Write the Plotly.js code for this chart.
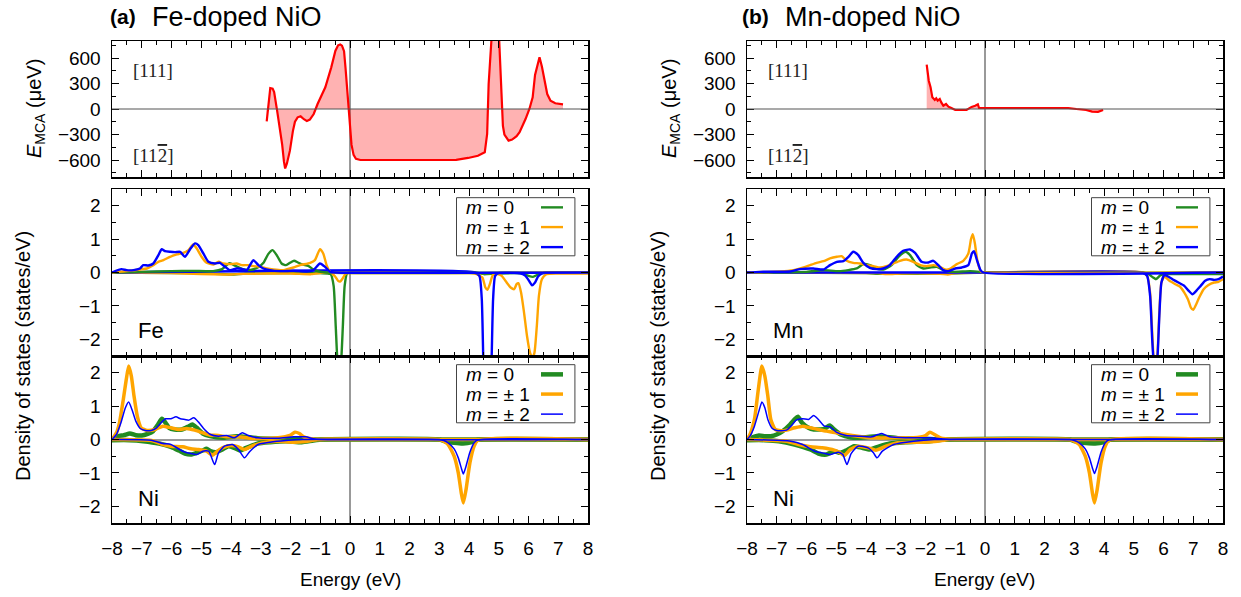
<!DOCTYPE html>
<html>
<head>
<meta charset="utf-8">
<script src="https://cdn.plot.ly/plotly-3.0.1.min.js"></script>
<style>
  html, body { margin: 0; padding: 0; background: #fff; }
  #chart { width: 1241px; height: 597px; }
</style>
</head>
<body>
<div id="chart"></div>
<script>
// ---------- Axis ranges ----------
const energyRange = [-8, 8];
const dosRange = [-2.5, 2.5];
const mcaRange = [-800, 800];

// ---------- MCA energy vs band filling (E, µeV) ----------
const mcaFe = [[-2.80,-145],[-2.72,150],[-2.68,247],[-2.60,240],[-2.55,200],[-2.45,-20],[-2.35,-250],[-2.28,-420],[-2.22,-620],[-2.18,-700],[-2.12,-640],[-2.02,-490],[-1.92,-260],[-1.85,-150],[-1.76,-98],[-1.66,-86],[-1.55,-120],[-1.45,-140],[-1.35,-125],[-1.22,-59],[-1.09,59],[-0.95,160],[-0.83,255],[-0.63,490],[-0.49,686],[-0.40,750],[-0.33,760],[-0.27,745],[-0.20,680],[-0.15,480],[-0.10,250],[-0.05,20],[0.00,-200],[0.05,-420],[0.12,-540],[0.20,-585],[0.35,-600],[1.0,-600],[2.0,-600],[3.0,-600],[3.57,-598],[3.97,-576],[4.30,-550],[4.53,-510],[4.61,-294],[4.66,294],[4.71,850],[4.76,1300],[4.86,1400],[4.96,1250],[5.01,820],[5.08,200],[5.14,-200],[5.19,-300],[5.33,-372],[5.45,-360],[5.60,-320],[5.70,-274],[5.80,-200],[5.90,-118],[6.03,0],[6.14,137],[6.22,400],[6.30,530],[6.37,608],[6.45,500],[6.52,372],[6.63,176],[6.74,98],[6.90,67],[7.16,55]];
const mcaMn = [[-1.96,521],[-1.92,420],[-1.89,333],[-1.83,255],[-1.77,137],[-1.69,106],[-1.64,125],[-1.59,98],[-1.52,118],[-1.47,78],[-1.40,39],[-1.31,59],[-1.23,27],[-1.13,12],[-1.00,-12],[-0.80,-12],[-0.62,-12],[-0.52,10],[-0.45,25],[-0.33,39],[-0.24,55],[-0.20,12],[0.0,12],[1.0,12],[2.0,12],[2.8,12],[3.07,0],[3.40,-12],[3.60,-31],[3.80,-33],[3.97,-12]];

// ---------- Fe d-orbital DOS (states/eV), spin up ----------
const feUpM0 = [[-8,0],[-7,0.02],[-6,0.04],[-5.3,0.05],[-4.6,0.04],[-4.3,0.1],[-4.05,0.28],[-3.85,0.2],[-3.6,0.1],[-3.35,0.08],[-3.1,0.15],[-2.9,0.3],[-2.75,0.55],[-2.6,0.67],[-2.45,0.5],[-2.3,0.27],[-2.15,0.22],[-2.0,0.3],[-1.88,0.35],[-1.75,0.3],[-1.6,0.24],[-1.4,0.2],[-1.25,0.1],[-1.05,0.03],[-0.8,0],[8,0]];
const feUpM1 = [[-8,0],[-7.51,0.04],[-7.06,0.09],[-6.83,0.12],[-6.61,0.22],[-6.44,0.32],[-6.27,0.37],[-6.05,0.47],[-5.82,0.54],[-5.60,0.59],[-5.43,0.67],[-5.27,0.84],[-5.15,0.72],[-4.99,0.47],[-4.82,0.29],[-4.59,0.24],[-4.42,0.32],[-4.26,0.27],[-4.03,0.25],[-3.81,0.27],[-3.64,0.22],[-3.42,0.22],[-3.25,0.19],[-3.02,0.17],[-2.80,0.12],[-2.58,0.09],[-2.24,0.07],[-1.90,0.15],[-1.68,0.22],[-1.34,0.29],[-1.18,0.37],[-1.01,0.70],[-0.90,0.57],[-0.78,0.2],[-0.67,0.02],[-0.6,0],[8,0]];
const feUpM2 = [[-8,0],[-7.68,0.1],[-7.51,0.07],[-7.28,0.07],[-7.06,0.12],[-6.95,0.22],[-6.78,0.21],[-6.61,0.27],[-6.44,0.52],[-6.33,0.70],[-6.22,0.64],[-6.05,0.62],[-5.88,0.61],[-5.71,0.62],[-5.55,0.47],[-5.38,0.69],[-5.21,0.87],[-5.10,0.82],[-4.93,0.57],[-4.76,0.32],[-4.54,0.27],[-4.37,0.29],[-4.20,0.17],[-4.03,0.07],[-3.81,0.12],[-3.64,0.11],[-3.47,0.07],[-3.25,0.37],[-3.08,0.22],[-2.91,0.12],[-2.69,0.07],[-2.35,0.04],[-1.90,0.05],[-1.46,0.03],[-1.23,0.07],[-1.01,0.27],[-0.84,0.17],[-0.67,0.02],[-0.50,0],[8,0]];
// ---------- Fe d-orbital DOS, spin down ----------
const feDnM0 = [[-8,0],[-5,-0.02],[-4.0,-0.06],[-3.5,-0.03],[-1.0,-0.02],[-0.65,-0.05],[-0.55,-0.4],[-0.48,-1.6],[-0.42,-2.7],[-0.36,-3.1],[-0.30,-2.7],[-0.24,-1.6],[-0.18,-0.4],[-0.1,-0.03],[0,0],[4.2,0],[4.5,-0.05],[4.9,-0.03],[5.8,-0.03],[6.0,-0.1],[6.15,-0.13],[6.35,-0.05],[6.6,0],[8,0]];
const feDnM1 = [[-8,0],[-6,-0.02],[-4.0,-0.06],[-3.6,-0.04],[-2.0,-0.03],[-1.3,-0.05],[-0.65,0],[-0.5,-0.12],[-0.4,-0.25],[-0.33,-0.27],[-0.25,-0.18],[-0.15,-0.04],[0,0],[3.9,0],[4.2,-0.03],[4.45,-0.15],[4.55,-0.45],[4.62,-0.52],[4.7,-0.35],[4.8,-0.08],[4.95,-0.05],[5.1,-0.1],[5.25,-0.28],[5.4,-0.45],[5.52,-0.5],[5.6,-0.35],[5.66,-0.32],[5.75,-0.6],[5.85,-1.2],[5.95,-1.9],[6.05,-2.4],[6.13,-2.55],[6.2,-2.4],[6.28,-1.6],[6.35,-0.7],[6.45,-0.2],[6.6,-0.05],[7,-0.03],[8,-0.03]];
const feDnM2 = [[-8,0],[4.2,0],[4.35,-0.1],[4.43,-0.8],[4.48,-2.6],[4.52,-3.6],[4.62,-3.9],[4.72,-3.6],[4.76,-2.6],[4.81,-0.8],[4.88,-0.1],[5.0,-0.02],[5.75,-0.03],[5.9,-0.1],[6.02,-0.25],[6.12,-0.38],[6.22,-0.3],[6.32,-0.12],[6.45,-0.03],[6.6,0],[8,0]];

// ---------- Mn d-orbital DOS, spin up ----------
const mnUpM0 = [[-8,0],[-6,0.02],[-5.43,0.07],[-4.9,0.04],[-4.31,0.12],[-4.09,0.25],[-3.87,0.22],[-3.64,0.12],[-3.42,0.09],[-3.14,0.22],[-2.91,0.47],[-2.67,0.62],[-2.52,0.52],[-2.29,0.22],[-2.07,0.12],[-1.85,0.15],[-1.62,0.17],[-1.4,0.07],[-1.18,0.02],[-0.5,0.04],[-0.17,0.02],[0,0],[8,0]];
const mnUpM1 = [[-8,0],[-6.89,0.03],[-6.44,0.07],[-6.10,0.15],[-5.88,0.22],[-5.66,0.29],[-5.43,0.34],[-5.21,0.42],[-4.98,0.47],[-4.82,0.49],[-4.65,0.35],[-4.43,0.29],[-4.20,0.27],[-3.98,0.22],[-3.75,0.19],[-3.53,0.15],[-3.31,0.19],[-3.08,0.27],[-2.86,0.35],[-2.64,0.39],[-2.41,0.32],[-2.18,0.22],[-1.96,0.19],[-1.74,0.22],[-1.51,0.17],[-1.34,0.09],[-1.18,0.11],[-0.95,0.25],[-0.73,0.35],[-0.56,0.57],[-0.47,1.0],[-0.41,1.15],[-0.34,0.87],[-0.25,0.32],[-0.13,0.02],[0,0],[8,0]];
const mnUpM2 = [[-8,0],[-7.56,0.02],[-6.55,0.03],[-6.22,0.1],[-5.77,0.12],[-5.43,0.09],[-5.21,0.22],[-4.98,0.32],[-4.76,0.34],[-4.59,0.47],[-4.43,0.62],[-4.26,0.52],[-4.09,0.29],[-3.87,0.14],[-3.64,0.1],[-3.42,0.12],[-3.20,0.22],[-2.97,0.47],[-2.75,0.65],[-2.52,0.69],[-2.35,0.59],[-2.13,0.32],[-1.90,0.30],[-1.74,0.35],[-1.57,0.22],[-1.40,0.07],[-1.23,0.04],[-1.00,0.12],[-0.78,0.15],[-0.56,0.22],[-0.44,0.57],[-0.37,0.64],[-0.27,0.37],[-0.15,0.07],[-0.06,0],[8,0]];
// ---------- Mn d-orbital DOS, spin down ----------
const mnDnM0 = [[-8,0],[-4,-0.02],[-3.5,-0.04],[-1.3,-0.03],[0,0],[5.3,0],[5.5,-0.05],[5.65,-0.15],[5.75,-0.2],[5.9,-0.08],[6.1,-0.05],[8,-0.05]];
const mnDnM1 = [[-8,0],[-3.6,-0.02],[-3.3,-0.05],[-2.8,-0.03],[-1.5,-0.04],[-1.25,-0.06],[-1.0,-0.02],[0,0],[5.3,0],[5.45,-0.1],[5.55,-0.6],[5.62,-1.8],[5.68,-2.7],[5.74,-2.9],[5.80,-2.4],[5.86,-1.2],[5.93,-0.3],[6.03,-0.12],[6.2,-0.25],[6.4,-0.35],[6.55,-0.42],[6.7,-0.6],[6.82,-0.8],[6.92,-1.05],[7.0,-1.12],[7.1,-0.95],[7.2,-0.75],[7.35,-0.5],[7.5,-0.38],[7.7,-0.3],[7.85,-0.28],[8,-0.2]];
const mnDnM2 = [[-8,0],[0,0],[5.3,0],[5.45,-0.1],[5.55,-0.7],[5.62,-2.0],[5.68,-2.8],[5.74,-3.0],[5.80,-2.5],[5.86,-1.3],[5.93,-0.3],[6.03,-0.08],[6.15,-0.12],[6.3,-0.2],[6.5,-0.3],[6.7,-0.4],[6.85,-0.55],[6.97,-0.65],[7.1,-0.55],[7.25,-0.4],[7.4,-0.25],[7.55,-0.2],[7.7,-0.22],[7.85,-0.2],[8,-0.12]];

// ---------- Ni d-orbital DOS in Fe-doped NiO ----------
const niFeUpM0 = [[-8,0.02],[-7.8,0.1],[-7.6,0.13],[-7.4,0.18],[-7.2,0.13],[-7.0,0.12],[-6.8,0.17],[-6.62,0.25],[-6.45,0.45],[-6.32,0.62],[-6.2,0.5],[-6.08,0.35],[-5.9,0.3],[-5.65,0.3],[-5.45,0.38],[-5.3,0.45],[-5.15,0.35],[-4.95,0.18],[-4.7,0.1],[-4.3,0.05],[-3.8,0.1],[-3.1,0.04],[-2.4,0.02],[-1.0,0],[8,0]];
const niFeUpM1 = [[-8,0],[-7.85,0.2],[-7.75,0.5],[-7.62,1.2],[-7.52,1.8],[-7.44,2.2],[-7.35,1.9],[-7.26,1.3],[-7.15,0.7],[-7.02,0.35],[-6.82,0.27],[-6.55,0.3],[-6.29,0.4],[-6.02,0.35],[-5.75,0.3],[-5.49,0.33],[-5.22,0.28],[-4.95,0.2],[-4.69,0.13],[-4.42,0.12],[-4.15,0.08],[-3.75,0.08],[-3.36,0.04],[-2.96,0.03],[-2.42,0.05],[-2.02,0.12],[-1.85,0.22],[-1.7,0.18],[-1.56,0.08],[-1.3,0.02],[-1.0,0],[8,0]];
const niFeUpM2 = [[-8,0],[-7.85,0.15],[-7.7,0.5],[-7.55,0.95],[-7.44,1.12],[-7.33,0.9],[-7.2,0.55],[-7.05,0.33],[-6.88,0.27],[-6.68,0.27],[-6.5,0.35],[-6.35,0.5],[-6.2,0.62],[-6.02,0.62],[-5.85,0.68],[-5.7,0.62],[-5.55,0.6],[-5.42,0.58],[-5.25,0.65],[-5.09,0.52],[-4.89,0.3],[-4.69,0.15],[-4.42,0.1],[-4.15,0.12],[-3.89,0.05],[-3.62,0.2],[-3.42,0.12],[-3.09,0.05],[-2.42,0.04],[-1.89,0.08],[-1.49,0.08],[-1.23,0.02],[-1.0,0],[8,0]];
const niFeDnM0 = [[-8,-0.02],[-7.4,-0.02],[-6.95,-0.05],[-6.42,-0.12],[-6.02,-0.22],[-5.75,-0.33],[-5.55,-0.42],[-5.35,-0.45],[-5.15,-0.4],[-4.95,-0.33],[-4.82,-0.28],[-4.69,-0.35],[-4.49,-0.38],[-4.29,-0.3],[-4.09,-0.2],[-3.89,-0.25],[-3.69,-0.33],[-3.49,-0.25],[-3.09,-0.12],[-2.69,-0.08],[-2.16,-0.05],[-1.62,-0.08],[-1.23,-0.03],[-0.9,0],[3.0,0],[3.2,-0.06],[3.5,-0.1],[3.8,-0.12],[4.1,-0.08],[4.3,-0.01],[8,0]];
const niFeDnM1 = [[-8,0],[-6.68,-0.03],[-6.29,-0.15],[-6.02,-0.2],[-5.62,-0.22],[-5.35,-0.28],[-5.09,-0.3],[-4.82,-0.35],[-4.62,-0.47],[-4.49,-0.38],[-4.29,-0.25],[-4.02,-0.18],[-3.75,-0.22],[-3.55,-0.3],[-3.36,-0.22],[-2.96,-0.1],[-2.42,-0.05],[-1.89,-0.08],[-1.49,-0.06],[-1.09,0],[3.0,0],[3.15,-0.05],[3.3,-0.15],[3.5,-0.5],[3.64,-1.0],[3.74,-1.6],[3.81,-1.9],[3.9,-1.5],[4.03,-0.7],[4.17,-0.2],[4.3,-0.02],[8,0]];
const niFeDnM2 = [[-8,0],[-6.68,-0.02],[-6.29,-0.12],[-6.02,-0.15],[-5.62,-0.35],[-5.35,-0.42],[-5.15,-0.45],[-4.95,-0.35],[-4.75,-0.35],[-4.55,-0.75],[-4.42,-0.4],[-4.22,-0.2],[-3.95,-0.15],[-3.75,-0.3],[-3.55,-0.55],[-3.36,-0.35],[-3.09,-0.15],[-2.69,-0.08],[-2.16,-0.03],[-1.6,0],[3.0,0],[3.15,-0.03],[3.3,-0.1],[3.5,-0.28],[3.64,-0.55],[3.74,-0.85],[3.81,-1.03],[3.9,-0.8],[4.03,-0.38],[4.17,-0.1],[4.3,-0.01],[8,0]];

// ---------- Ni d-orbital DOS in Mn-doped NiO ----------
const niMnUpM0 = [[-8,0.02],[-7.87,0.05],[-7.6,0.12],[-7.4,0.1],[-7.2,0.1],[-7.0,0.15],[-6.8,0.25],[-6.55,0.45],[-6.4,0.6],[-6.29,0.68],[-6.15,0.5],[-5.95,0.36],[-5.75,0.3],[-5.6,0.3],[-5.4,0.32],[-5.22,0.42],[-5.07,0.3],[-4.85,0.15],[-4.5,0.06],[-4.27,0.05],[-3.6,0.1],[-2.93,0.04],[-2.0,0.02],[-1.6,0],[8,0]];
const niMnUpM1 = [[-8,0],[-7.9,0.15],[-7.75,0.6],[-7.62,1.5],[-7.5,2.2],[-7.4,1.9],[-7.3,1.3],[-7.2,0.6],[-7.05,0.3],[-6.85,0.26],[-6.67,0.28],[-6.4,0.35],[-6.13,0.4],[-5.87,0.35],[-5.6,0.3],[-5.33,0.25],[-5.0,0.2],[-4.67,0.15],[-4.27,0.1],[-3.73,0.05],[-2.93,0.05],[-2.4,0.05],[-2.0,0.12],[-1.85,0.22],[-1.7,0.15],[-1.5,0.05],[-1.33,0.02],[-1.0,0],[8,0]];
const niMnUpM2 = [[-8,0],[-7.9,0.1],[-7.75,0.4],[-7.6,0.85],[-7.5,1.12],[-7.4,0.95],[-7.3,0.6],[-7.15,0.33],[-7.0,0.27],[-6.67,0.28],[-6.5,0.42],[-6.35,0.58],[-6.13,0.62],[-5.93,0.6],[-5.76,0.72],[-5.6,0.6],[-5.4,0.4],[-5.2,0.38],[-5.0,0.22],[-4.67,0.12],[-4.27,0.1],[-3.8,0.08],[-3.6,0.15],[-3.47,0.18],[-3.2,0.08],[-2.67,0.05],[-1.87,0.05],[-1.47,0.02],[-1.2,0],[8,0]];
const niMnDnM0 = [[-8,-0.02],[-7.4,-0.02],[-6.93,-0.05],[-6.4,-0.15],[-5.87,-0.3],[-5.6,-0.42],[-5.33,-0.45],[-5.07,-0.35],[-4.87,-0.4],[-4.67,-0.33],[-4.4,-0.2],[-4.13,-0.25],[-3.87,-0.3],[-3.6,-0.22],[-3.2,-0.12],[-2.67,-0.08],[-1.87,-0.05],[-1.3,0],[2.85,0],[3.0,-0.05],[3.3,-0.1],[3.7,-0.12],[4.0,-0.08],[4.2,-0.01],[8,0]];
const niMnDnM1 = [[-8,0],[-6.67,-0.05],[-6.27,-0.15],[-5.87,-0.22],[-5.47,-0.25],[-5.07,-0.32],[-4.87,-0.4],[-4.73,-0.48],[-4.53,-0.3],[-4.27,-0.2],[-3.93,-0.25],[-3.67,-0.32],[-3.33,-0.2],[-2.93,-0.1],[-2.13,-0.08],[-1.6,-0.05],[-1.2,0],[2.85,0],[3.0,-0.05],[3.17,-0.15],[3.37,-0.5],[3.51,-1.0],[3.61,-1.6],[3.68,-1.9],[3.77,-1.5],[3.9,-0.7],[4.04,-0.2],[4.17,-0.02],[8,0]];
const niMnDnM2 = [[-8,0],[-6.53,-0.05],[-6.13,-0.15],[-5.73,-0.35],[-5.47,-0.4],[-5.2,-0.45],[-4.93,-0.38],[-4.78,-0.45],[-4.64,-0.75],[-4.5,-0.42],[-4.27,-0.2],[-3.93,-0.25],[-3.75,-0.4],[-3.63,-0.55],[-3.45,-0.35],[-3.07,-0.15],[-2.4,-0.05],[-1.7,0],[2.85,0],[3.0,-0.03],[3.17,-0.1],[3.37,-0.28],[3.51,-0.55],[3.61,-0.85],[3.68,-1.02],[3.77,-0.8],[3.9,-0.38],[4.04,-0.1],[4.17,-0.01],[8,0]];

// ---------- Labels ----------
const legendLabels = ['<i>m</i> = 0', '<i>m</i> = ± 1', '<i>m</i> = ± 2'];
const panelTitles = [['(a)', 'Fe-doped NiO'], ['(b)', 'Mn-doped NiO']];
const dopantLabels = ['Fe', 'Mn'];
const axisLabels = ['[111]', '[11<span style="text-decoration:overline">2</span>]'];

// ---------- Drawing ----------
const W = 1241, H = 597;
const px = v => v / W;
const py = v => 1 - v / H;
const COLORS = ['#228b22', '#ffa500', '#0000ff'];
const SANS = 'Liberation Sans, Arial, Helvetica, sans-serif';
const SERIF = 'Liberation Serif, Times New Roman, serif';

const cols = [[112, 588], [747, 1223]];
const rows = [[41, 177], [189, 356], [356, 523]];

function xy(pairs) { return { x: pairs.map(p => p[0]), y: pairs.map(p => p[1]) }; }

function line(pairs, axIdx, color, width, smooth) {
  const d = xy(pairs);
  const s = axIdx === 1 ? '' : axIdx;
  return {
    type: 'scatter', mode: 'lines', x: d.x, y: d.y,
    xaxis: 'x' + s, yaxis: 'y' + s,
    line: smooth ? { color, width, shape: 'spline', smoothing: 0.55 } : { color, width },
    hoverinfo: 'skip', showlegend: false
  };
}

const traces = [];
// MCA curves with shaded area to zero
[[mcaFe, 1], [mcaMn, 4]].forEach(([d, ax]) => {
  const t = line(d, ax, '#ff0000', 2.2, false);
  t.fill = 'tozeroy';
  t.fillcolor = 'rgba(255,0,0,0.30)';
  traces.push(t);
});
// dopant DOS
[[[feUpM0, feUpM1, feUpM2], [feDnM0, feDnM1, feDnM2], 2],
 [[mnUpM0, mnUpM1, mnUpM2], [mnDnM0, mnDnM1, mnDnM2], 5]].forEach(([up, dn, ax]) => {
  [0, 1, 2].forEach(i => traces.push(line(dn[i], ax, COLORS[i], 2.4, true)));
  [0, 1, 2].forEach(i => traces.push(line(up[i], ax, COLORS[i], 2.4, true)));
});
// Ni DOS (thick m=0, medium m=±1, thin m=±2)
const niWidths = [4.5, 3.5, 1.5];
[[[niFeUpM0, niFeUpM1, niFeUpM2], [niFeDnM0, niFeDnM1, niFeDnM2], 3],
 [[niMnUpM0, niMnUpM1, niMnUpM2], [niMnDnM0, niMnDnM1, niMnDnM2], 6]].forEach(([up, dn, ax]) => {
  [0, 1, 2].forEach(i => {
    traces.push(line(up[i], ax, COLORS[i], niWidths[i], true));
    traces.push(line(dn[i], ax, COLORS[i], niWidths[i], true));
  });
});

const tickFont = { family: SANS, size: 19, color: '#000' };
function xAxis(col, labels) {
  return {
    domain: [px(cols[col][0]), px(cols[col][1])],
    range: energyRange, dtick: 1, tick0: 0,
    showline: true, linecolor: '#000', linewidth: 1.5, mirror: 'ticks',
    ticks: 'inside', ticklen: 7, tickwidth: 1, tickcolor: '#000',
    minor: { ticks: 'inside', ticklen: 4, dtick: 0.5, tickwidth: 1, tickcolor: '#000' },
    showgrid: false, zeroline: false, showticklabels: labels,
    tickfont: tickFont, ticklabelstandoff: 8, fixedrange: true
  };
}
function yAxis(row, mca, zeroGray) {
  const r = rows[row];
  return {
    domain: [py(r[1]), py(r[0])],
    range: mca ? mcaRange : dosRange,
    dtick: mca ? 300 : 1, tick0: 0,
    showline: true, linecolor: '#000', linewidth: 1.5, mirror: 'ticks',
    ticks: 'inside', ticklen: 7, tickwidth: 1, tickcolor: '#000',
    minor: { ticks: 'inside', ticklen: 4, dtick: mca ? 150 : 0.5, tickwidth: 1, tickcolor: '#000' },
    showgrid: false, zeroline: !!zeroGray, zerolinecolor: '#9a9a9a', zerolinewidth: 2,
    tickfont: tickFont, ticklabelstandoff: 6, fixedrange: true
  };
}

const layout = {
  width: W, height: H,
  margin: { l: 0, r: 0, t: 0, b: 0 },
  paper_bgcolor: '#fff', plot_bgcolor: '#fff',
  showlegend: false,
  font: { family: SANS, color: '#000' },
  shapes: [], annotations: []
};
[[0, 0, 1], [0, 1, 2], [0, 2, 3], [1, 0, 4], [1, 1, 5], [1, 2, 6]].forEach(([c, r, n]) => {
  const s = n === 1 ? '' : n;
  layout['xaxis' + s] = Object.assign(xAxis(c, r === 2), { anchor: 'y' + s });
  layout['yaxis' + s] = Object.assign(yAxis(r, r === 0, r === 2), { anchor: 'x' + s });
  // vertical line at the Fermi level
  layout.shapes.push({ type: 'line', xref: 'x' + s, yref: 'y' + s + ' domain', x0: 0, x1: 0, y0: 0, y1: 1,
    line: { color: '#555', width: 1.2 }, layer: 'below' });
  if (r === 0) {
    layout.shapes.push({ type: 'line', xref: 'x' + s + ' domain', yref: 'y' + s, x0: 0, x1: 1, y0: 0, y1: 0,
      line: { color: '#555', width: 1.2 }, layer: 'above' });
  }
});

// legends drawn inside DOS panels
function legendBox(n, widths) {
  const xr = 'x' + n, yr = 'y' + n;
  layout.shapes.push({ type: 'rect', xref: xr, yref: yr, x0: 3.58, x1: 7.56, y0: 0.5, y1: 2.24,
    line: { color: '#444', width: 1 }, fillcolor: '#fff', layer: 'above' });
  const ys = [1.95, 1.36, 0.76];
  legendLabels.forEach((lab, i) => {
    layout.annotations.push({ xref: xr, yref: yr, x: 3.82, y: ys[i], text: lab, showarrow: false,
      xanchor: 'left', yanchor: 'middle', font: { family: SANS, size: 19, color: '#000' } });
    layout.shapes.push({ type: 'line', xref: xr, yref: yr, x0: 6.42, x1: 7.16, y0: ys[i], y1: ys[i],
      line: { color: COLORS[i], width: widths[i] }, layer: 'above' });
  });
}
legendBox(2, [2.4, 2.4, 2.4]);
legendBox(3, niWidths);
legendBox(5, [2.4, 2.4, 2.4]);
legendBox(6, niWidths);

// panel texts
[0, 1].forEach(c => {
  const off = c === 0 ? 0 : 635;
  layout.annotations.push({ xref: 'paper', yref: 'paper', x: px(c === 0 ? 108 : 740), y: py(17), text: '<b>' + panelTitles[c][0] + '</b>',
    showarrow: false, xanchor: 'left', yanchor: 'middle', font: { family: SANS, size: 21, color: '#000' } });
  layout.annotations.push({ xref: 'paper', yref: 'paper', x: px(c === 0 ? 150 : 783), y: py(17), text: panelTitles[c][1],
    showarrow: false, xanchor: 'left', yanchor: 'middle', font: { family: SANS, size: 27, color: '#000' } });
  // axis titles
  layout.annotations.push({ xref: 'paper', yref: 'paper', x: px(36 + off), y: py(109), textangle: -90,
    text: '<i>E</i><sub>MCA</sub> (μeV)', showarrow: false, xanchor: 'center', yanchor: 'middle',
    font: { family: SANS, size: 20, color: '#000' } });
  layout.annotations.push({ xref: 'paper', yref: 'paper', x: px(23 + off), y: py(356), textangle: -90,
    text: 'Density of states (states/eV)', showarrow: false, xanchor: 'center', yanchor: 'middle',
    font: { family: SANS, size: 20, color: '#000' } });
  layout.annotations.push({ xref: 'paper', yref: 'paper', x: px(350 + off), y: py(579),
    text: 'Energy (eV)', showarrow: false, xanchor: 'center', yanchor: 'middle',
    font: { family: SANS, size: 19, color: '#000' } });
  // easy-axis labels in the MCA panel
  const xt = c === 0 ? 'x' : 'x4', yt = c === 0 ? 'y' : 'y4';
  layout.annotations.push({ xref: xt, yref: yt, x: -7.36, y: 450, text: axisLabels[0], showarrow: false,
    xanchor: 'left', yanchor: 'middle', font: { family: SERIF, size: 19, color: '#222' } });
  layout.annotations.push({ xref: xt, yref: yt, x: -7.36, y: -550, text: axisLabels[1], showarrow: false,
    xanchor: 'left', yanchor: 'middle', font: { family: SERIF, size: 19, color: '#222' } });
  // species labels
  const xd = c === 0 ? 'x2' : 'x5', yd = c === 0 ? 'y2' : 'y5';
  const xn = c === 0 ? 'x3' : 'x6', yn = c === 0 ? 'y3' : 'y6';
  layout.annotations.push({ xref: xd, yref: yd, x: -7.2, y: -1.75, text: dopantLabels[c], showarrow: false,
    xanchor: 'left', yanchor: 'middle', font: { family: SANS, size: 22, color: '#000' } });
  layout.annotations.push({ xref: xn, yref: yn, x: -7.2, y: -1.76, text: 'Ni', showarrow: false,
    xanchor: 'left', yanchor: 'middle', font: { family: SANS, size: 22, color: '#000' } });
});

Plotly.newPlot('chart', traces, layout, { staticPlot: true, displayModeBar: false });
</script>
</body>
</html>
